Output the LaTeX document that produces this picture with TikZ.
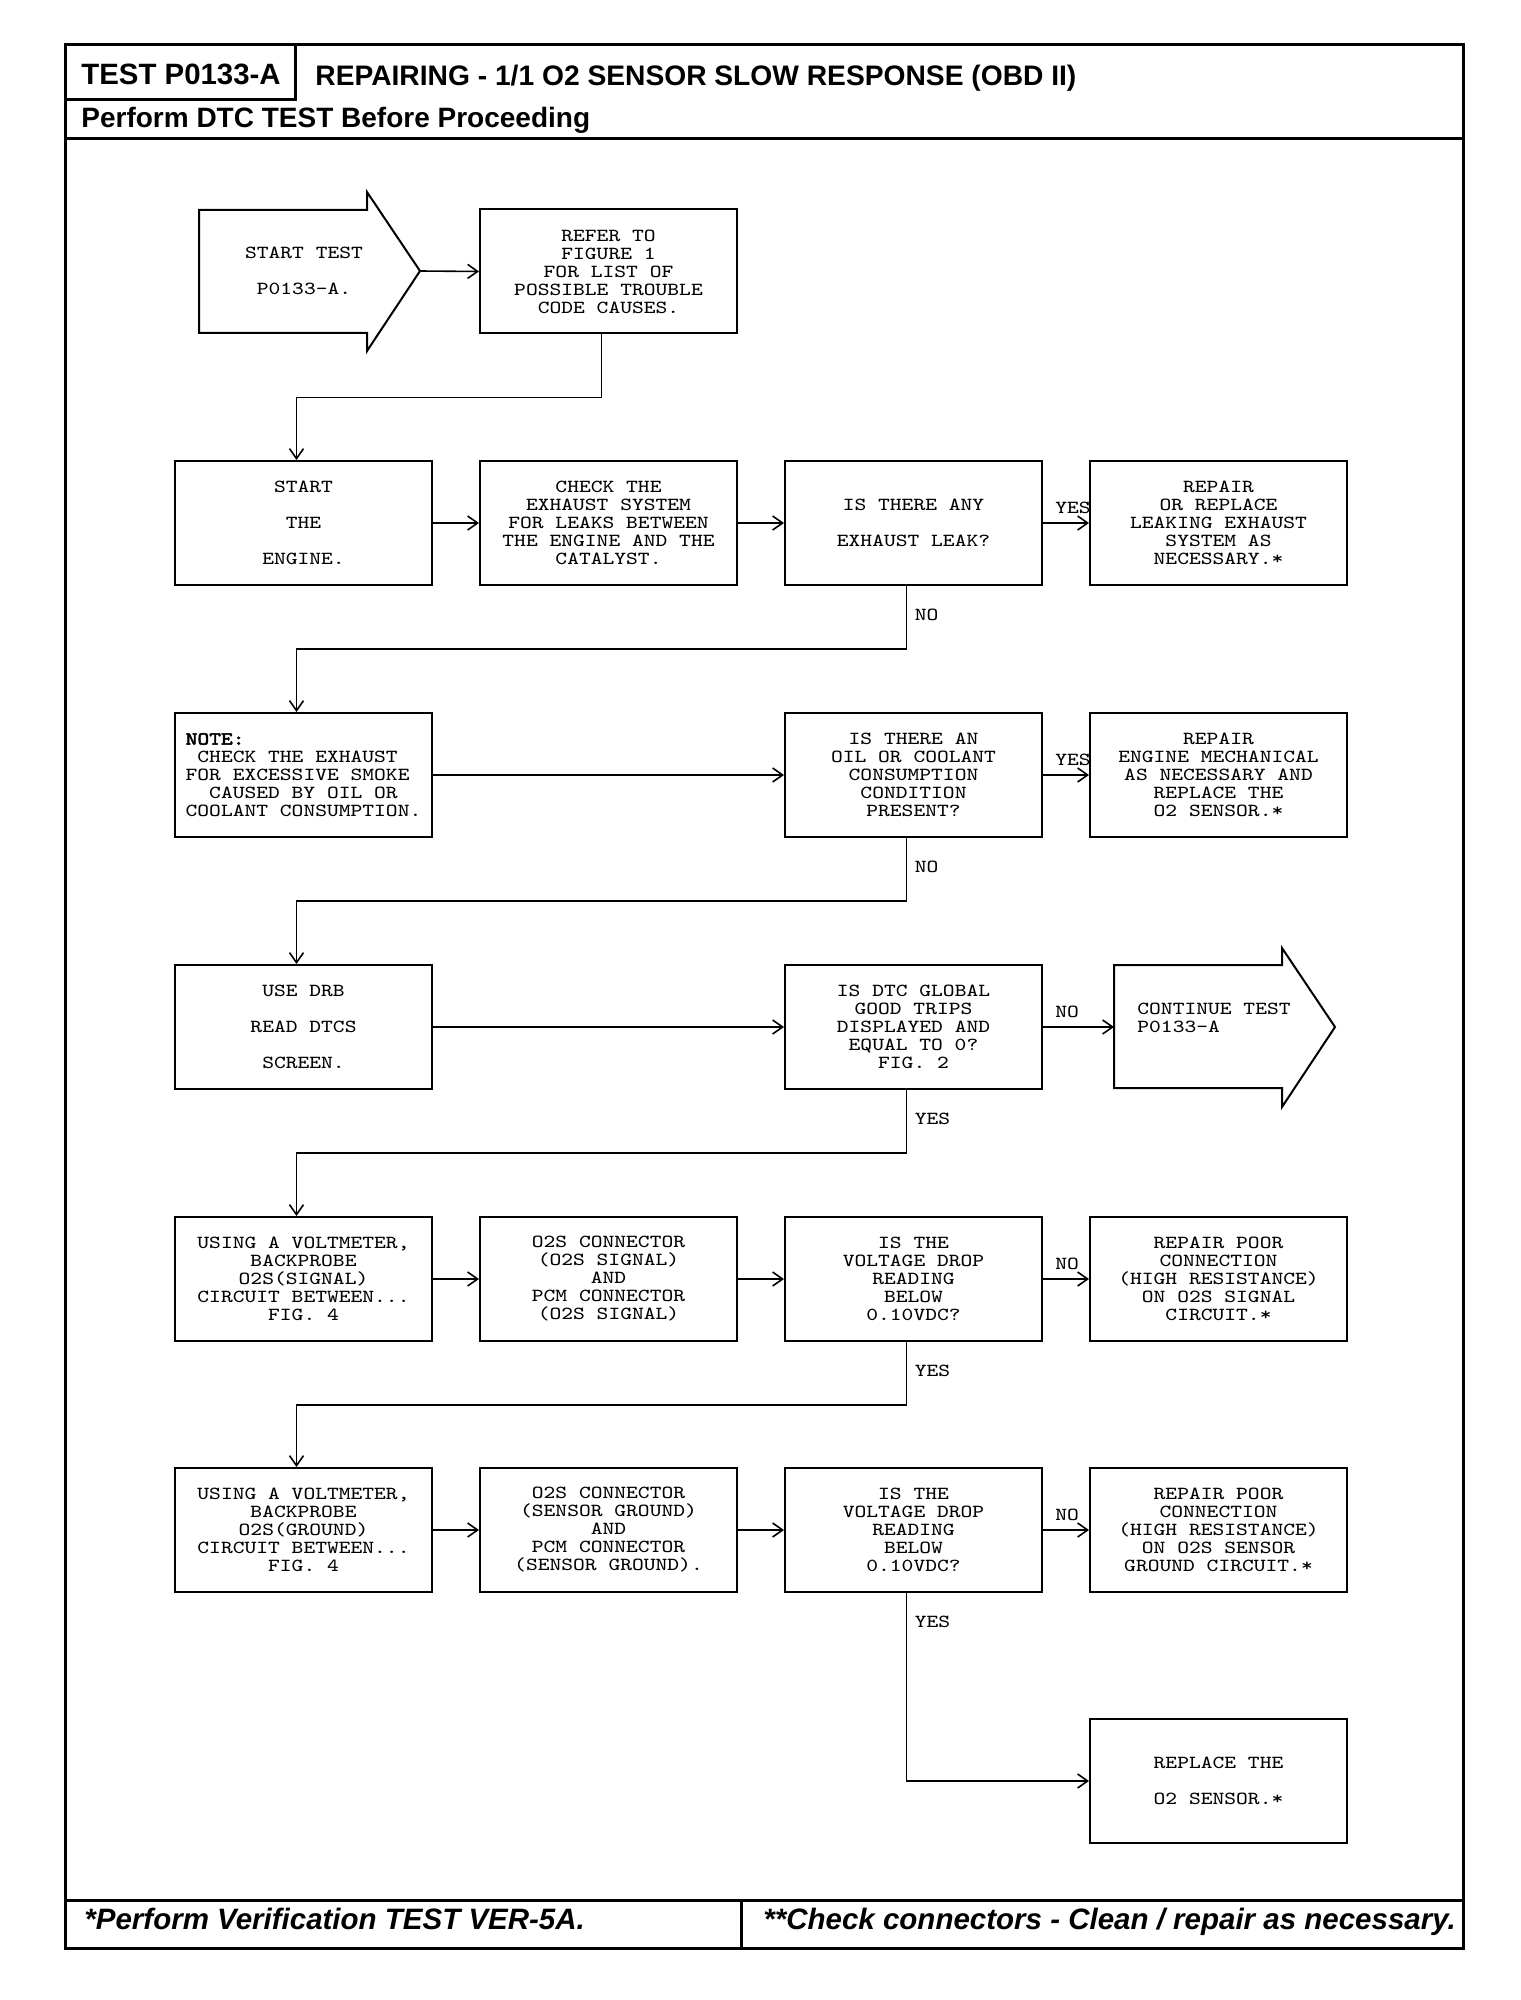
\documentclass[tikz,border=0pt]{standalone}
\usepackage{fontspec}
\setsansfont{Liberation Sans}
\newfontfamily\boxfont{Latin Modern Mono}[FakeStretch = 1.22, AutoFakeBold = 2.5]
\usetikzlibrary{arrows.meta}
\newcommand{\boxtext}{\boxfont\fontsize{9.2pt}{9pt}\selectfont}
\begin{document}
\begin{tikzpicture}[x = 0.5pt, y = -0.5pt, yscale = 1, xscale = 1,
  frame/.style = {line width = 1.5pt},
  box/.style = {draw, line width = 1pt, minimum width = 128.5pt, minimum height = 62pt, inner sep = 0pt, align = center, font = \boxtext},
  arrowshape/.style = {line width = 1pt, line join = miter},
  boxlabel/.style = {inner sep = 0pt, align = center, font = \boxtext},
  answer/.style = {inner sep = 0pt, anchor = base west, font = \boxtext},
  flow/.style = {line width = 0.8pt, -{Straight Barb[length = 5pt, width = 7pt]}}]
\useasboundingbox (0, 0) rectangle (1520, 2000);
% page frame
\draw [frame] (65, 45) rectangle (1463, 1948);
\draw [frame] (295, 45) -- (295, 100) -- (65, 100);
\draw [frame] (65, 139) -- (1463, 139);
\draw [frame] (65, 1900) -- (1463, 1900);
\draw [frame] (741, 1900) -- (741, 1948);
\node [anchor = base west, inner sep = 0pt, font = \sffamily\bfseries\fontsize{14.7pt}{16pt}\selectfont] (testno) at (81, 85) {TEST P0133-A};
\node [anchor = base west, inner sep = 0pt, font = \sffamily\bfseries\fontsize{14.1pt}{16pt}\selectfont] (title) at (315, 86) {REPAIRING - 1/1 O2 SENSOR SLOW RESPONSE (OBD II)};
\node [anchor = base west, inner sep = 0pt, font = \sffamily\bfseries\fontsize{14pt}{16pt}\selectfont] (before) at (81, 128) {Perform DTC TEST Before Proceeding};
\node [anchor = base west, inner sep = 0pt, font = \sffamily\bfseries\itshape\fontsize{14.75pt}{16pt}\selectfont] (verify) at (84, 1929) {*Perform Verification TEST VER-5A.};
\node [anchor = base west, inner sep = 0pt, font = \sffamily\bfseries\itshape\fontsize{14.75pt}{16pt}\selectfont] (clean) at (763, 1929) {**Check connectors - Clean / repair as necessary.};
% start and continue arrows
\draw [arrowshape] (199, 210) -- (367, 210) -- (367, 192) -- (420, 271) -- (367, 351) -- (367, 333) -- (199, 333) -- cycle;
\coordinate (starttip) at (420, 271);
\node [boxlabel] (starttext) at (304, 271) {START TEST\\[9pt]P0133-A.};
\draw [arrowshape] (1114, 965) -- (1282, 965) -- (1282, 948) -- (1335, 1027) -- (1282, 1107) -- (1282, 1088) -- (1114, 1088) -- cycle;
\coordinate (contin) at (1114, 1027);
\node [boxlabel, anchor = west, align = left] (contintext) at (1137, 1018) {CONTINUE TEST\\P0133-A};
% boxes
\node [box] (refer) at (608.5, 271.5) {REFER TO\\FIGURE 1\\FOR LIST OF\\POSSIBLE TROUBLE\\CODE CAUSES.};
\node [box] (engine) at (303.5, 523) {START\\[9pt]THE\\[9pt]ENGINE.};
\node [box] (exhaust) at (608.5, 523) {CHECK THE\\EXHAUST SYSTEM\\FOR LEAKS BETWEEN\\THE ENGINE AND THE\\CATALYST.};
\node [box] (leak) at (913.5, 523) {IS THERE ANY\\[9pt]EXHAUST LEAK?};
\node [box] (fixleak) at (1218.5, 523) {REPAIR\\OR REPLACE\\LEAKING EXHAUST\\SYSTEM AS\\NECESSARY.*};
\node [box, align = left] (note) at (303.5, 775) {\textbf{NOTE:}\\\phantom{C}CHECK THE EXHAUST\\FOR EXCESSIVE SMOKE\\\phantom{CC}CAUSED BY OIL OR\\COOLANT CONSUMPTION.};
\node [box] (oil) at (913.5, 775) {IS THERE AN\\OIL OR COOLANT\\CONSUMPTION\\CONDITION\\PRESENT?};
\node [box] (fixoil) at (1218.5, 775) {REPAIR\\ENGINE MECHANICAL\\AS NECESSARY AND\\REPLACE THE\\O2 SENSOR.*};
\node [box] (drb) at (303.5, 1027) {USE DRB\\[9pt]READ DTCS\\[9pt]SCREEN.};
\node [box] (dtc) at (913.5, 1027) {IS DTC GLOBAL\\GOOD TRIPS\\DISPLAYED AND\\EQUAL TO 0?\\FIG. 2};
\node [box] (voltsig) at (303.5, 1279) {USING A VOLTMETER,\\BACKPROBE\\O2S(SIGNAL)\\CIRCUIT BETWEEN...\\FIG. 4};
\node [box] (consig) at (608.5, 1279) {O2S CONNECTOR\\(O2S SIGNAL)\\AND\\PCM CONNECTOR\\(O2S SIGNAL)};
\node [box] (dropsig) at (913.5, 1279) {IS THE\\VOLTAGE DROP\\READING\\BELOW\\0.10VDC?};
\node [box] (fixsig) at (1218.5, 1279) {REPAIR POOR\\CONNECTION\\(HIGH RESISTANCE)\\ON O2S SIGNAL\\CIRCUIT.*};
\node [box] (voltgnd) at (303.5, 1530) {USING A VOLTMETER,\\BACKPROBE\\O2S(GROUND)\\CIRCUIT BETWEEN...\\FIG. 4};
\node [box] (congnd) at (608.5, 1530) {O2S CONNECTOR\\(SENSOR GROUND)\\AND\\PCM CONNECTOR\\(SENSOR GROUND).};
\node [box] (dropgnd) at (913.5, 1530) {IS THE\\VOLTAGE DROP\\READING\\BELOW\\0.10VDC?};
\node [box] (fixgnd) at (1218.5, 1530) {REPAIR POOR\\CONNECTION\\(HIGH RESISTANCE)\\ON O2S SENSOR\\GROUND CIRCUIT.*};
\node [box] (replace) at (1218.5, 1781) {REPLACE THE\\[9pt]O2 SENSOR.*};
% connectors
\draw [flow] (starttip) -- (refer.west);
\draw [flow] ([xshift = -3.5pt]refer.south) -- ++(0, 63) -| ([xshift = -3.5pt]engine.north);
\draw [flow] (engine) -- (exhaust);
\draw [flow] (exhaust) -- (leak);
\draw [flow] (leak) -- (fixleak);
\draw [flow] ([xshift = -3.5pt]leak.south) -- ++(0, 63) -| ([xshift = -3.5pt]note.north);
\draw [flow] (note) -- (oil);
\draw [flow] (oil) -- (fixoil);
\draw [flow] ([xshift = -3.5pt]oil.south) -- ++(0, 63) -| ([xshift = -3.5pt]drb.north);
\draw [flow] (drb) -- (dtc);
\draw [flow] (dtc.east) -- (contin);
\draw [flow] ([xshift = -3.5pt]dtc.south) -- ++(0, 63) -| ([xshift = -3.5pt]voltsig.north);
\draw [flow] (voltsig) -- (consig);
\draw [flow] (consig) -- (dropsig);
\draw [flow] (dropsig) -- (fixsig);
\draw [flow] ([xshift = -3.5pt]dropsig.south) -- ++(0, 63) -| ([xshift = -3.5pt]voltgnd.north);
\draw [flow] (voltgnd) -- (congnd);
\draw [flow] (congnd) -- (dropgnd);
\draw [flow] (dropgnd) -- (fixgnd);
\draw [flow] ([xshift = -3.5pt]dropgnd.south) |- (replace.west);
% answers
\node [answer] (leakyes) at ([xshift = 6pt, yshift = 5pt]leak.east) {YES};
\node [answer] (leakno) at ([xshift = 0.5pt, yshift = -17pt]leak.south) {NO};
\node [answer] (oilyes) at ([xshift = 6pt, yshift = 5pt]oil.east) {YES};
\node [answer] (oilno) at ([xshift = 0.5pt, yshift = -17pt]oil.south) {NO};
\node [answer] (dtcno) at ([xshift = 6pt, yshift = 5pt]dtc.east) {NO};
\node [answer] (dtcyes) at ([xshift = 0.5pt, yshift = -17pt]dtc.south) {YES};
\node [answer] (signo) at ([xshift = 6pt, yshift = 5pt]dropsig.east) {NO};
\node [answer] (sigyes) at ([xshift = 0.5pt, yshift = -17pt]dropsig.south) {YES};
\node [answer] (gndno) at ([xshift = 6pt, yshift = 5pt]dropgnd.east) {NO};
\node [answer] (gndyes) at ([xshift = 0.5pt, yshift = -17pt]dropgnd.south) {YES};
\end{tikzpicture}
\end{document}
